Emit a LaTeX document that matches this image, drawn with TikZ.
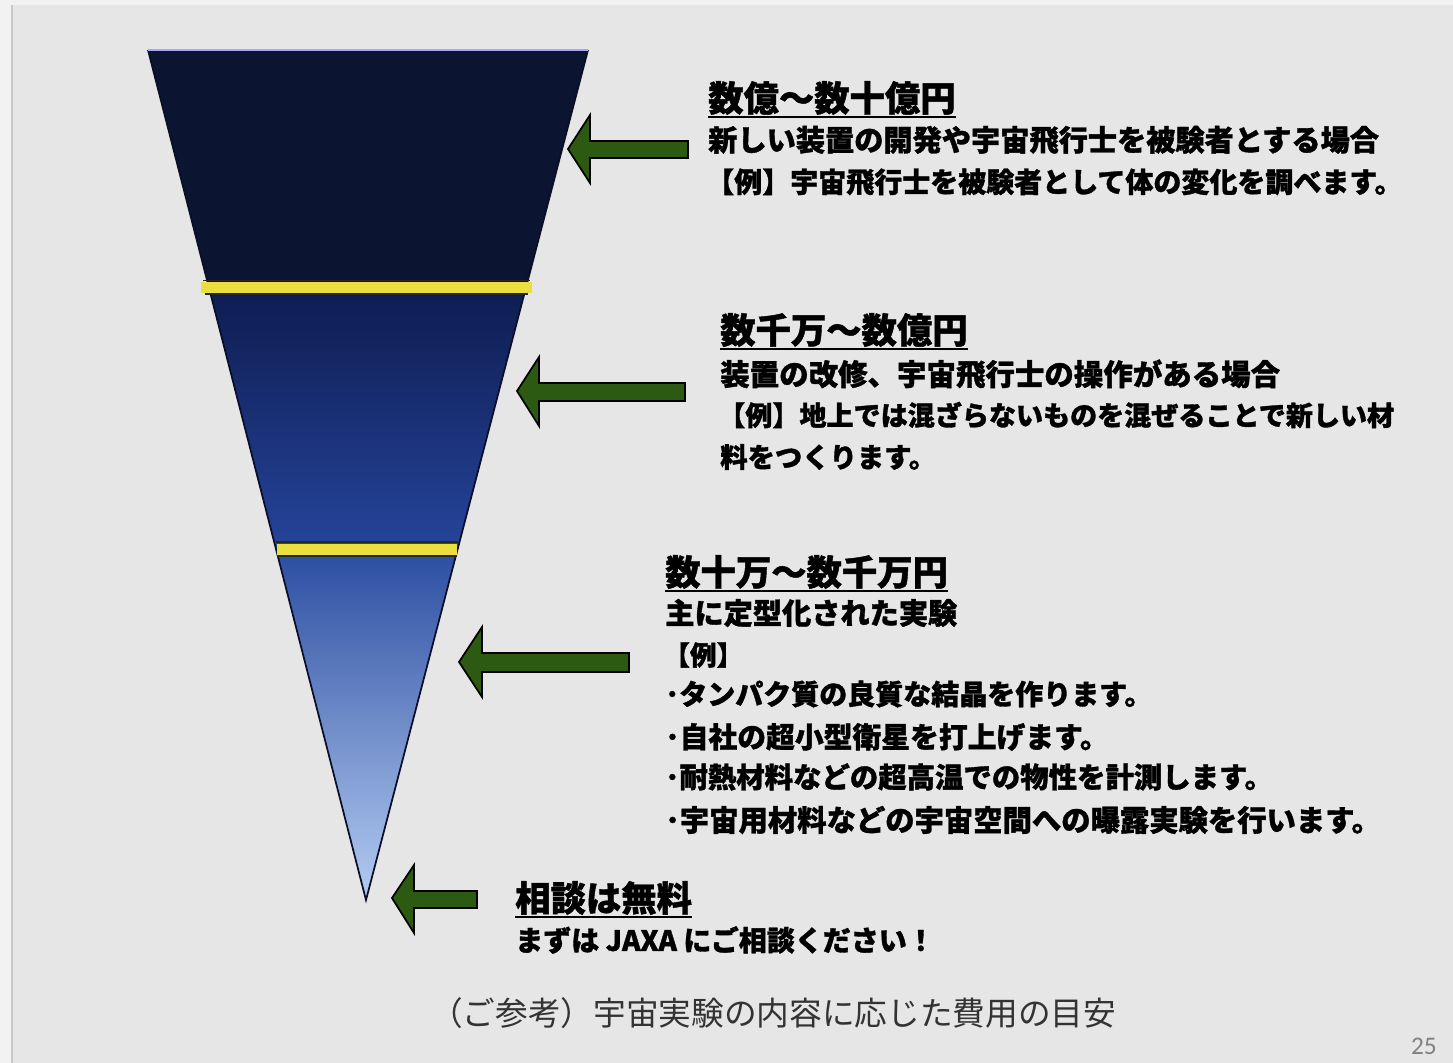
\documentclass[tikz,border=0pt]{standalone}
\usepackage{fontspec}
\newfontfamily\jp[BoldFeatures={FakeBold=1.2}]{Noto Sans CJK JP}
\newfontfamily\jpreg{Noto Sans CJK JP}
\newfontfamily\pgnum{Carlito}
\definecolor{bg}{HTML}{E6E6E6}
\definecolor{navyA}{HTML}{0B1430}
\definecolor{navyB1}{HTML}{0E1C50}
\definecolor{navyB2}{HTML}{25449A}
\definecolor{blueC1}{HTML}{2B4DA0}
\definecolor{blueCm}{HTML}{3D63B4}
\definecolor{blueC2}{HTML}{B4CCF2}
\definecolor{band}{HTML}{EADF3E}
\definecolor{arrowgreen}{HTML}{2D5A12}
\definecolor{edge}{HTML}{0A0F25}
\tikzset{
  txt/.style={anchor=west, inner sep=0pt, text=black, font=\jp\bfseries\fontsize{21}{21}\selectfont},
  headtxt/.style={anchor=west, inner sep=0pt, text=black, font=\jp\bfseries\fontsize{26.5}{27}\selectfont},
  fs/.style={font=\jp\bfseries\fontsize{#1}{#1}\selectfont},
  uline/.style={draw=black, line width=1.5pt},
  blockarrow/.style={fill=arrowgreen, draw=black, line width=1.3pt, line join=miter},
  bandfill/.style={fill=band},
  bandedge/.style={draw=black!85, line width=1.2pt},
}
\begin{document}
\begin{tikzpicture}[x=0.75pt,y=-0.75pt]
\useasboundingbox (0,0) rectangle (1453,1063);
% background
\fill[white!95!black] (0,0) rectangle (1453,1063);
\fill[bg] (12,5) rectangle (1453,1063);
\draw[black!22, line width=1.2pt] (12,5) -- (12,1063);

% funnel coordinates
\coordinate (TL) at (148,50);
\coordinate (TR) at (588,50);
\coordinate (L1) at (208.8,287);
\coordinate (R1) at (526.1,287);
\coordinate (L2) at (276.0,549);
\coordinate (R2) at (457.7,549);
\coordinate (AP) at (366,900);

% sections
\fill[navyA] (TL) -- (TR) -- (R1) -- (L1) -- cycle;
\shade[top color=navyB1, bottom color=navyB2] (L1) -- (R1) -- (R2) -- (L2) -- cycle;
\shade[top color=blueC1, middle color=blueCm, bottom color=blueC2] (L2) -- (R2) -- (AP) -- cycle;
\draw[edge, line width=1.3pt, line join=miter] (TL) -- (AP) -- (TR);
\draw[blue!35!white, line width=0.8pt] (TL) -- (TR);

% yellow bands
\draw[bandedge] (203,280.5) -- (530,280.5);
\draw[bandedge] (205,294) -- (528,294);
\fill[bandfill] (201,282) rectangle (532,293);
\draw[bandedge] (276,542) -- (458,542);
\draw[bandedge] (277,556) -- (457,556);
\fill[bandfill] (277,543.5) rectangle (457,555);

% arrows
\draw[blockarrow] (568,149) -- (590,115) -- (590,141) -- (688,141) -- (688,158) -- (590,158) -- (590,183) -- cycle;
\draw[blockarrow] (517,391) -- (539,357) -- (539,383) -- (685,383) -- (685,401) -- (539,401) -- (539,426) -- cycle;
\draw[blockarrow] (459,662) -- (482,627) -- (482,653) -- (629,653) -- (629,672) -- (482,672) -- (482,697) -- cycle;
\draw[blockarrow] (392,898) -- (414,865) -- (414,891) -- (477,891) -- (477,908) -- (414,908) -- (414,933) -- cycle;

% block 1
\node[headtxt] (h1) at (708,98) {数億～数十億円};
\draw[uline] ([yshift=-1.5pt]h1.south west) -- ([yshift=-1.5pt]h1.south east);
\node[txt, fs=21.9] (a1) at (708,140) {新しい装置の開発や宇宙飛行士を被験者とする場合};
\node[txt] (a2) at (706,182) {【例】宇宙飛行士を被験者として体の変化を調べます。};

% block 2
\node[headtxt] (h2) at (720,330) {数千万～数億円};
\draw[uline] ([yshift=-1.5pt]h2.south west) -- ([yshift=-1.5pt]h2.south east);
\node[txt, fs=22.1] (b1) at (720,374) {装置の改修、宇宙飛行士の操作がある場合};
\node[txt, fs=20.3] (b2) at (718,415) {【例】地上では混ざらないものを混ぜることで新しい材};
\node[txt, fs=20.5] (b3) at (720,457) {料をつくります。};

% block 3
\node[headtxt] (h3) at (665,572) {数十万～数千万円};
\draw[uline] ([yshift=-1.5pt]h3.south west) -- ([yshift=-1.5pt]h3.south east);
\node[txt, fs=21.9] (c1) at (665,613) {主に定型化された実験};
\node[txt, fs=20] (c2) at (663,655) {【例】};
\node[txt] (c3) at (665,694) {･タンパク質の良質な結晶を作ります。};
\node[txt, fs=21.6] (c4) at (665,737) {･自社の超小型衛星を打上げます。};
\node[txt, fs=21.3] (c5) at (665,777) {･耐熱材料などの超高温での物性を計測します。};
\node[txt, fs=22] (c6) at (665,820) {･宇宙用材料などの宇宙空間への曝露実験を行います。};

% block 4
\node[headtxt] (h4) at (515,898) {相談は無料};
\draw[uline] ([yshift=-1.5pt]h4.south west) -- ([yshift=-1.5pt]h4.south east);
\node[txt] (d1) at (515,940) {まずは JAXA にご相談ください！};

% caption
\node[anchor=west, inner sep=0pt, text=black!80, font=\jpreg\fontsize{24.5}{25}\selectfont] (cap) at (430,1013) {（ご参考）宇宙実験の内容に応じた費用の目安};

% page number
\node[anchor=east, inner sep=0pt, text=black!50, font=\pgnum\fontsize{19}{19}\selectfont] (pg) at (1437,1046) {25};
\end{tikzpicture}
\end{document}
